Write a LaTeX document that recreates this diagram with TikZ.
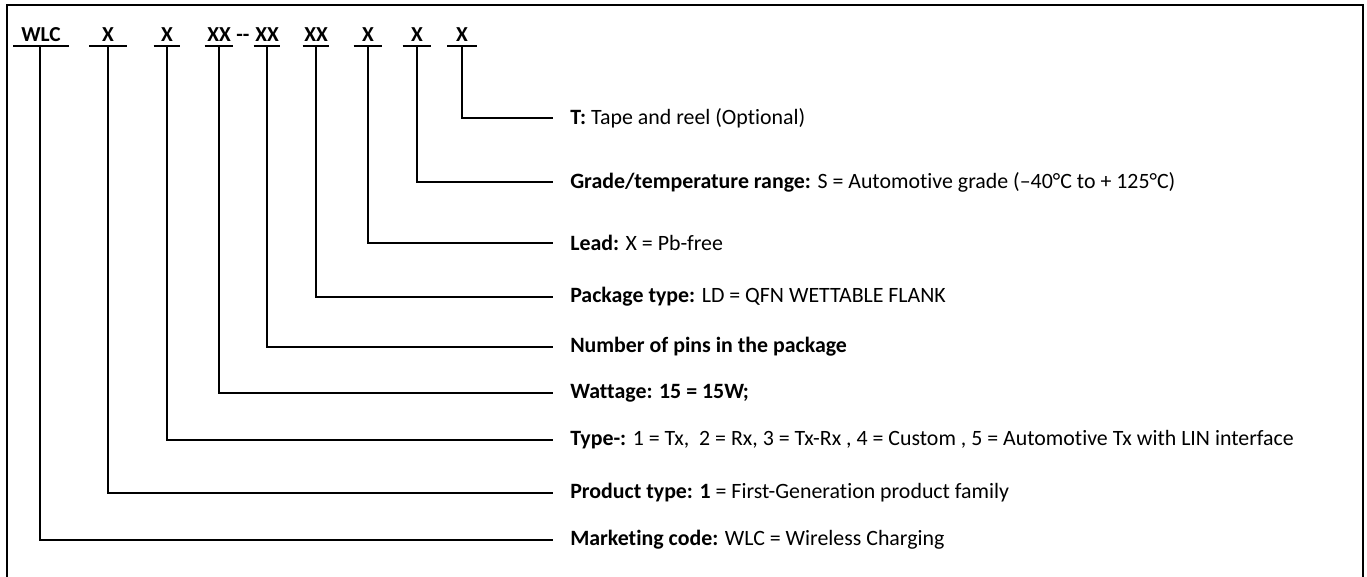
\documentclass[tikz,border=0pt]{standalone}
\usepackage{fontspec}
\setmainfont{Carlito}[Ligatures={NoCommon}]
\begin{document}
\begin{tikzpicture}[x=0.75pt,y=-0.75pt,
  hdr/.style={anchor=south, inner xsep=0pt, inner ysep=3pt, text depth=0pt, font=\fontsize{16}{18}\selectfont\bfseries},
  lbl/.style={anchor=west, inner xsep=12.75pt, inner ysep=0pt, font=\fontsize{16.4}{19}\selectfont},
  conn/.style={line width=1pt},
  uline/.style={line width=1.5pt}]
\useasboundingbox (0,0) rectangle (1367,576);
\draw[line width=1.6pt] (7,600) -- (7,5) -- (1363,5) -- (1363,600);
% header
\node[hdr, minimum width=55*0.75pt] (hA) at (41,46) {WLC};
\node[hdr, minimum width=37*0.75pt] (hB) at (108,46) {X};
\node[hdr, minimum width=26*0.75pt] (hC) at (167,46) {X};
\node[hdr, minimum width=28*0.75pt] (hD) at (219,46) {XX};
\node[hdr] (dash) at (243,46) {{-}{-}};
\node[hdr, minimum width=26*0.75pt] (hE) at (267,46) {XX};
\node[hdr, minimum width=26*0.75pt] (hF) at (316,46) {XX};
\node[hdr, minimum width=28*0.75pt] (hG) at (368,46) {X};
\node[hdr, minimum width=28*0.75pt] (hH) at (417,46) {X};
\node[hdr, minimum width=29*0.75pt] (hI) at (462,46) {X};
\foreach \n in {hA,hB,hC,hD,hE,hF,hG,hH,hI}
  \draw[uline] (\n.south west) -- (\n.south east);
% labels
\node[lbl] (lI) at (553,118) {\textbf{T:} Tape and reel (Optional)};
\node[lbl] (lH) at (553,182) {\textbf{Grade/temperature range:} S = Automotive grade (–40°C to + 125°C)};
\node[lbl] (lG) at (553,243) {\textbf{Lead:} X = Pb-free};
\node[lbl] (lF) at (553,297) {\textbf{Package type:} LD = QFN WETTABLE FLANK};
\node[lbl] (lE) at (553,347) {\textbf{Number of pins in the package}};
\node[lbl] (lD) at (553,393) {\textbf{Wattage: 15 = 15W;}};
\node[lbl] (lC) at (553,440) {\textbf{Type-:} 1 = Tx,\ \ 2 = Rx, 3 = Tx-Rx , 4 = Custom , 5 = Automotive Tx with LIN interface};
\node[lbl] (lB) at (553,493) {\textbf{Product type: 1} = First-Generation product family};
\node[lbl] (lA) at (553,540) {\textbf{Marketing code:} WLC = Wireless Charging};
\draw[conn] (hA.south -| 40,0) |- (lA.west);
\foreach \h/\l in {hB/lB,hC/lC,hD/lD,hE/lE,hF/lF,hG/lG,hH/lH,hI/lI}
  \draw[conn] (\h.south) |- (\l.west);
\end{tikzpicture}
\end{document}
